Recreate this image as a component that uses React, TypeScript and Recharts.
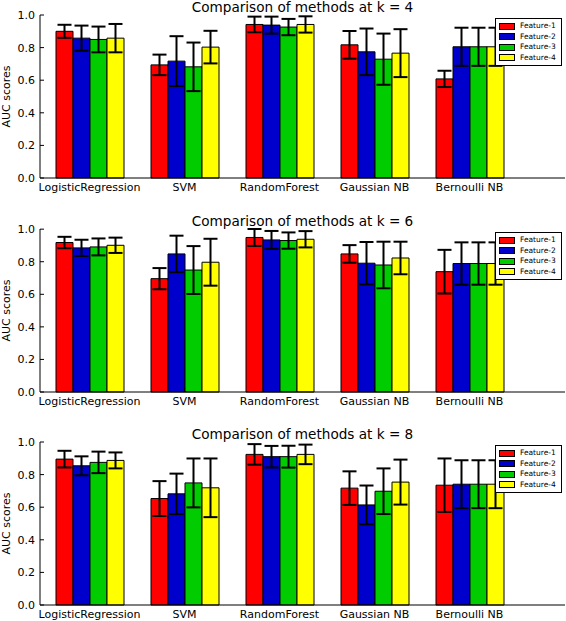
import React from 'react';
import { BarChart, Bar, XAxis, YAxis, ErrorBar, Legend } from 'recharts';

const categories = ['LogisticRegression', 'SVM', 'RandomForest', 'Gaussian NB', 'Bernoulli NB'];
const features = ['Feature-1', 'Feature-2', 'Feature-3', 'Feature-4'];
const featureColors = ['#ff0000', '#0000cc', '#00cc00', '#ffff00'];
const yTicks = [0, 0.2, 0.4, 0.6, 0.8, 1.0];

// k = 4
const k4F1 = [0.9, 0.694, 0.942, 0.817, 0.608];
const k4F2 = [0.858, 0.717, 0.938, 0.774, 0.805];
const k4F3 = [0.85, 0.682, 0.926, 0.729, 0.805];
const k4F4 = [0.858, 0.803, 0.942, 0.766, 0.805];
const k4E1 = [0.04, 0.063, 0.048, 0.085, 0.05];
const k4E2 = [0.077, 0.153, 0.052, 0.143, 0.117];
const k4E3 = [0.079, 0.149, 0.05, 0.157, 0.117];
const k4E4 = [0.087, 0.1, 0.05, 0.147, 0.117];

// k = 6
const k6F1 = [0.918, 0.696, 0.949, 0.848, 0.739];
const k6F2 = [0.885, 0.848, 0.934, 0.791, 0.789];
const k6F3 = [0.891, 0.749, 0.93, 0.78, 0.789];
const k6F4 = [0.901, 0.797, 0.938, 0.823, 0.789];
const k6E1 = [0.035, 0.065, 0.052, 0.054, 0.134];
const k6E2 = [0.05, 0.112, 0.055, 0.13, 0.13];
const k6E3 = [0.052, 0.147, 0.05, 0.143, 0.13];
const k6E4 = [0.047, 0.144, 0.05, 0.1, 0.13];

// k = 8
const k8F1 = [0.895, 0.653, 0.924, 0.717, 0.735];
const k8F2 = [0.854, 0.682, 0.91, 0.614, 0.741];
const k8F3 = [0.875, 0.749, 0.91, 0.698, 0.741];
const k8F4 = [0.887, 0.719, 0.924, 0.754, 0.741];
const k8E1 = [0.051, 0.107, 0.063, 0.103, 0.164];
const k8E2 = [0.058, 0.124, 0.066, 0.119, 0.147];
const k8E3 = [0.066, 0.15, 0.067, 0.14, 0.147];
const k8E4 = [0.049, 0.18, 0.06, 0.138, 0.147];

const panels = [
  { k: 4, vals: [k4F1, k4F2, k4F3, k4F4], errs: [k4E1, k4E2, k4E3, k4E4] },
  { k: 6, vals: [k6F1, k6F2, k6F3, k6F4], errs: [k6E1, k6E2, k6E3, k6E4] },
  { k: 8, vals: [k8F1, k8F2, k8F3, k8F4], errs: [k8E1, k8E2, k8E3, k8E4] },
];

const FONT = '"DejaVu Sans", sans-serif';
const CHART_W = 566;
const CHART_H = 213;
const PANEL_TOPS = [0, 214, 427];

function buildRows(vals: number[][], errs: number[][]) {
  return categories.map((name, i) => {
    const row: any = { name };
    features.forEach((f, j) => {
      row['v' + j] = vals[j][i];
      row['e' + j] = errs[j][i];
    });
    return row;
  });
}

const XTick = (props: any) => {
  const { x, y, payload } = props;
  return (
    <g>
      <line x1={x} x2={x} y1={y} y2={y - 4} stroke="#000" strokeWidth={1} />
      <text x={x} y={y + 13} textAnchor="middle" fontSize={11} fontFamily={FONT} fill="#000">
        {payload.value}
      </text>
    </g>
  );
};

const YTick = (props: any) => {
  const { x, y, payload } = props;
  return (
    <g>
      <line x1={x} x2={x + 4} y1={y} y2={y} stroke="#000" strokeWidth={1} />
      <text x={x - 5} y={y} dy="0.36em" textAnchor="end" fontSize={11} fontFamily={FONT} fill="#000">
        {Number(payload.value).toFixed(1)}
      </text>
    </g>
  );
};

const LegendBox = () => (
  <div
    style={{
      border: '1px solid #000',
      background: '#fff',
      padding: '2px 2px 2px 3px',
      width: 60,
      boxSizing: 'content-box',
    }}
  >
    {features.map((f, j) => (
      <div key={f} style={{ display: 'flex', alignItems: 'center', height: 10.5 }}>
        <div
          style={{
            width: 14,
            height: 5,
            background: featureColors[j],
            border: '1px solid #000',
            marginRight: 5,
          }}
        />
        <span style={{ fontFamily: FONT, fontSize: 7.5, color: '#000', lineHeight: '10px' }}>{f}</span>
      </div>
    ))}
  </div>
);

const YLabel = (props: any) => {
  const vb = props.viewBox || { y: 15, height: 163 };
  const cy = vb.y + vb.height / 2;
  return (
    <text
      x={6}
      y={cy}
      transform={`rotate(-90, 6, ${cy})`}
      textAnchor="middle"
      dominantBaseline="central"
      fontSize={11}
      fontFamily={FONT}
      fill="#000"
    >
      AUC scores
    </text>
  );
};

function Panel({ k, vals, errs, top }: any) {
  const rows = buildRows(vals, errs);
  return (
    <div style={{ position: 'absolute', left: 0, top, width: CHART_W, height: CHART_H }}>
      <div
        style={{
          position: 'absolute',
          left: 40,
          width: 525,
          top: -1,
          textAlign: 'center',
          fontFamily: FONT,
          fontSize: 13.6,
          color: '#000',
          lineHeight: '16px',
        }}
      >
        {`Comparison of methods at k = ${k}`}
      </div>
      <BarChart
        width={CHART_W}
        height={CHART_H}
        data={rows}
        margin={{ top: 15, right: 1, left: 0, bottom: 0 }}
        barGap={0}
        barSize={17}
      >
        <XAxis
          xAxisId="b"
          dataKey="name"
          orientation="bottom"
          height={35}
          padding={{ left: 2, right: 48 }}
          tickSize={0}
          tickMargin={0}
          tickLine={false}
          tick={<XTick />}
          axisLine={{ stroke: '#000' }}
          interval={0}
        />
        <XAxis
          xAxisId="t"
          dataKey="name"
          orientation="top"
          mirror
          height={0}
          padding={{ left: 2, right: 48 }}
          tickSize={4}
          tick={false}
          tickLine={{ stroke: '#000' }}
          axisLine={{ stroke: '#000' }}
          interval={0}
        />
        <YAxis
          yAxisId="l"
          type="number"
          domain={[0, 1]}
          ticks={yTicks}
          width={40}
          tickSize={0}
          tickMargin={0}
          tickLine={false}
          tick={<YTick />}
          axisLine={{ stroke: '#000' }}
          interval={0}
          label={<YLabel />}
        />
        <YAxis
          yAxisId="r"
          type="number"
          orientation="right"
          mirror
          domain={[0, 1]}
          ticks={yTicks}
          width={0}
          tickSize={4}
          tick={false}
          tickLine={{ stroke: '#000' }}
          axisLine={{ stroke: '#000' }}
          interval={0}
        />
        <Legend
          layout="vertical"
          align="center"
          verticalAlign="middle"
          wrapperStyle={{ top: 18, right: 4, left: 'auto', width: 'auto' }}
          content={<LegendBox />}
        />
        {features.map((f, j) => (
          <Bar
            key={f}
            name={f}
            dataKey={'v' + j}
            xAxisId="b"
            yAxisId="l"
            fill={featureColors[j]}
            stroke="#000"
            strokeWidth={1}
            isAnimationActive={false}
          >
            <ErrorBar dataKey={'e' + j} width={7} stroke="#000" strokeWidth={2} direction="y" />
          </Bar>
        ))}
      </BarChart>
    </div>
  );
}

export default function App() {
  return (
    <div style={{ position: 'absolute', left: 0, top: 0, width: 566, height: 621, background: '#fff' }}>
      {panels.map((p, i) => (
        <Panel key={p.k} k={p.k} vals={p.vals} errs={p.errs} top={PANEL_TOPS[i]} />
      ))}
    </div>
  );
}
